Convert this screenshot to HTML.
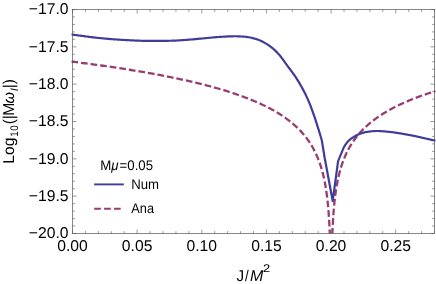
<!DOCTYPE html>
<html><head><meta charset="utf-8"><title>Chart</title><style>
html,body{margin:0;padding:0;background:#fff;}
svg{display:block;will-change:transform;text-rendering:geometricPrecision;font-family:"Liberation Sans",sans-serif;}
</style></head><body>
<svg width="436" height="284" viewBox="0 0 436 284">
<rect width="436" height="284" fill="#fff"/>
<clipPath id="c"><rect x="71.3" y="9.5" width="364.4" height="224.0"/></clipPath>
<g clip-path="url(#c)" fill="none" stroke-linejoin="round">
<path d="M71.40,61.55 L73.06,61.76 L74.71,61.97 L76.37,62.18 L78.03,62.39 L79.68,62.60 L81.34,62.82 L82.99,63.03 L84.65,63.25 L86.30,63.47 L87.96,63.69 L89.62,63.91 L91.27,64.13 L92.93,64.36 L94.58,64.58 L96.24,64.81 L97.90,65.04 L99.55,65.27 L101.21,65.51 L102.86,65.74 L104.52,65.98 L106.18,66.21 L107.83,66.45 L109.49,66.70 L111.14,66.94 L112.80,67.18 L114.46,67.43 L116.11,67.68 L117.77,67.93 L119.42,68.18 L121.08,68.44 L122.74,68.69 L124.39,68.95 L126.05,69.21 L127.70,69.48 L129.36,69.74 L131.02,70.01 L132.67,70.28 L134.33,70.55 L135.98,70.83 L137.64,71.10 L139.30,71.38 L140.95,71.66 L142.61,71.95 L144.26,72.23 L145.92,72.52 L147.58,72.81 L149.23,73.11 L150.89,73.40 L152.54,73.70 L154.20,74.00 L155.86,74.31 L157.51,74.62 L159.17,74.93 L160.82,75.24 L162.48,75.56 L164.14,75.88 L165.79,76.20 L167.45,76.53 L169.10,76.86 L170.76,77.19 L172.42,77.53 L174.07,77.87 L175.73,78.21 L177.38,78.56 L179.04,78.91 L180.70,79.27 L182.35,79.63 L184.01,79.99 L185.66,80.36 L187.32,80.73 L188.98,81.10 L190.63,81.48 L192.29,81.87 L193.94,82.26 L195.60,82.65 L197.26,83.05 L198.91,83.45 L200.57,83.86 L202.22,84.28 L203.88,84.70 L205.54,85.12 L207.19,85.55 L208.85,85.99 L210.50,86.43 L212.16,86.88 L213.82,87.33 L215.47,87.80 L217.13,88.26 L218.78,88.74 L220.44,89.22 L222.10,89.71 L223.75,90.21 L225.41,90.71 L227.06,91.22 L228.72,91.74 L230.38,92.27 L232.03,92.81 L233.69,93.36 L235.34,93.91 L237.00,94.48 L238.66,95.05 L240.31,95.64 L241.97,96.24 L243.62,96.85 L245.28,97.47 L246.94,98.10 L248.59,98.74 L250.25,99.40 L251.90,100.07 L253.56,100.76 L255.22,101.46 L256.87,102.17 L258.53,102.90 L260.18,103.65 L261.84,104.42 L263.50,105.20 L265.15,106.01 L266.81,106.83 L268.46,107.68 L270.12,108.55 L271.78,109.44 L273.43,110.36 L275.09,111.31 L276.74,112.28 L278.40,113.28 L280.06,114.32 L281.71,115.39 L283.37,116.50 L285.02,117.64 L286.68,118.83 L288.34,120.06 L289.99,121.34 L291.65,122.68 L293.30,124.07 L294.96,125.52 L296.62,127.05 L298.27,128.64 L299.93,130.32 L301.58,132.10 L303.24,133.97 L304.89,135.96 L306.55,138.08 L308.21,140.35 L309.86,142.78 L311.52,145.42 L313.17,148.29 L314.83,151.44 L316.49,154.93 L318.14,158.83 L318.14,158.83 L318.58,159.96 L319.01,161.08 L319.42,162.21 L319.82,163.34 L320.20,164.46 L320.57,165.59 L320.93,166.71 L321.28,167.84 L321.61,168.96 L321.93,170.09 L322.25,171.22 L322.55,172.34 L322.84,173.47 L323.12,174.59 L323.39,175.72 L323.65,176.84 L323.91,177.97 L324.15,179.09 L324.39,180.22 L324.61,181.35 L324.83,182.47 L325.05,183.60 L325.25,184.72 L325.45,185.85 L325.64,186.97 L325.83,188.10 L326.01,189.23 L326.18,190.35 L326.35,191.48 L326.51,192.60 L326.66,193.73 L326.81,194.85 L326.96,195.98 L327.10,197.10 L327.24,198.23 L327.37,199.36 L327.49,200.48 L327.61,201.61 L327.73,202.73 L327.85,203.86 L327.96,204.98 L328.06,206.11 L328.17,207.24 L328.26,208.36 L328.36,209.49 L328.45,210.61 L328.54,211.74 L328.63,212.86 L328.71,213.99 L328.79,215.11 L328.87,216.24 L328.95,217.37 L329.02,218.49 L329.09,219.62 L329.16,220.74 L329.22,221.87 L329.28,222.99 L329.34,224.12 L329.40,225.25 L329.46,226.37 L329.52,227.50 L329.57,228.62 L329.62,229.75 L329.67,230.87 L329.72,232.00 L329.76,233.12 L329.81,233.50 L329.85,233.50 L329.89,233.50 L329.93,233.50 L329.97,233.50 L330.01,233.50 L330.05,233.50 L330.08,233.50 L330.11,233.50 L330.15,233.50 L330.18,233.50 L330.21,233.50 L330.24,233.50 L330.27,233.50 L330.29,233.50 L330.32,233.50 L330.35,233.50 L330.37,233.50 L330.40,233.50 L330.42,233.50 L330.44,233.50 L330.46,233.50 L330.48,233.50 L330.50,233.50 L330.52,233.50 L330.54,233.50" stroke="#993d71" stroke-width="2.3" stroke-dasharray="6.7 2.97"/>
<path d="M331.60,233.50 L331.62,233.50 L331.64,233.50 L331.66,233.50 L331.68,233.50 L331.70,233.50 L331.72,233.50 L331.75,233.50 L331.77,233.50 L331.80,233.50 L331.82,233.50 L331.85,233.50 L331.88,233.50 L331.90,233.50 L331.93,233.50 L331.96,233.50 L332.00,233.50 L332.03,233.50 L332.06,233.50 L332.10,233.50 L332.13,233.50 L332.17,233.50 L332.21,233.50 L332.25,233.50 L332.29,233.50 L332.33,233.50 L332.38,233.12 L332.43,232.00 L332.47,230.87 L332.52,229.75 L332.57,228.62 L332.63,227.50 L332.68,226.37 L332.74,225.25 L332.80,224.12 L332.86,222.99 L332.92,221.87 L332.99,220.74 L333.06,219.62 L333.13,218.49 L333.20,217.37 L333.27,216.24 L333.35,215.11 L333.43,213.99 L333.51,212.86 L333.60,211.74 L333.69,210.61 L333.78,209.49 L333.88,208.36 L333.98,207.24 L334.08,206.11 L334.19,204.98 L334.30,203.86 L334.41,202.73 L334.53,201.61 L334.65,200.48 L334.78,199.36 L334.91,198.23 L335.04,197.10 L335.18,195.98 L335.33,194.85 L335.48,193.73 L335.63,192.60 L335.80,191.48 L335.96,190.35 L336.14,189.23 L336.31,188.10 L336.50,186.97 L336.69,185.85 L336.89,184.72 L337.10,183.60 L337.31,182.47 L337.53,181.35 L337.76,180.22 L337.99,179.09 L338.24,177.97 L338.49,176.84 L338.75,175.72 L339.02,174.59 L339.30,173.47 L339.60,172.34 L339.90,171.22 L340.21,170.09 L340.53,168.96 L340.87,167.84 L341.21,166.71 L341.57,165.59 L341.94,164.46 L342.32,163.34 L342.72,162.21 L343.13,161.08 L343.56,159.96 L344.00,158.83 L344.00,158.83 L344.93,156.59 L345.85,154.50 L346.78,152.53 L347.70,150.67 L348.63,148.91 L349.55,147.25 L350.48,145.66 L351.40,144.15 L352.33,142.71 L353.25,141.33 L354.18,140.00 L355.10,138.73 L356.03,137.51 L356.95,136.33 L357.88,135.19 L358.80,134.09 L359.73,133.02 L360.65,131.99 L361.58,130.99 L362.50,130.02 L363.43,129.08 L364.36,128.17 L365.28,127.28 L366.21,126.41 L367.13,125.57 L368.06,124.75 L368.98,123.95 L369.91,123.17 L370.83,122.40 L371.76,121.66 L372.68,120.93 L373.61,120.22 L374.53,119.52 L375.46,118.83 L376.38,118.17 L377.31,117.51 L378.23,116.87 L379.16,116.24 L380.08,115.62 L381.01,115.01 L381.93,114.42 L382.86,113.83 L383.79,113.26 L384.71,112.69 L385.64,112.14 L386.56,111.59 L387.49,111.06 L388.41,110.53 L389.34,110.01 L390.26,109.50 L391.19,109.00 L392.11,108.50 L393.04,108.01 L393.96,107.53 L394.89,107.06 L395.81,106.59 L396.74,106.13 L397.66,105.68 L398.59,105.23 L399.51,104.79 L400.44,104.36 L401.36,103.93 L402.29,103.50 L403.22,103.08 L404.14,102.67 L405.07,102.26 L405.99,101.86 L406.92,101.46 L407.84,101.07 L408.77,100.68 L409.69,100.30 L410.62,99.92 L411.54,99.54 L412.47,99.17 L413.39,98.80 L414.32,98.44 L415.24,98.08 L416.17,97.73 L417.09,97.38 L418.02,97.03 L418.94,96.69 L419.87,96.35 L420.80,96.01 L421.72,95.68 L422.65,95.35 L423.57,95.02 L424.50,94.70 L425.42,94.38 L426.35,94.07 L427.27,93.75 L428.20,93.44 L429.12,93.13 L430.05,92.83 L430.97,92.53 L431.90,92.23 L432.82,91.93 L433.75,91.64 L434.67,91.35 L435.60,91.06" stroke="#993d71" stroke-width="2.3" stroke-dasharray="6.7 2.97" stroke-dashoffset="0.3"/>
<path d="M71.40,34.45 L72.66,34.62 L73.92,34.79 L75.17,34.97 L76.43,35.14 L77.69,35.32 L78.95,35.49 L80.21,35.67 L81.47,35.84 L82.72,36.02 L83.98,36.19 L85.24,36.36 L86.50,36.53 L87.76,36.69 L89.02,36.85 L90.27,37.01 L91.53,37.17 L92.79,37.31 L94.05,37.46 L95.31,37.59 L96.57,37.73 L97.82,37.86 L99.08,38.00 L100.34,38.13 L101.60,38.25 L102.86,38.37 L104.12,38.49 L105.37,38.61 L106.63,38.72 L107.89,38.83 L109.15,38.93 L110.41,39.03 L111.67,39.13 L112.92,39.23 L114.18,39.32 L115.44,39.42 L116.70,39.51 L117.96,39.60 L119.22,39.69 L120.47,39.77 L121.73,39.85 L122.99,39.93 L124.25,40.01 L125.51,40.08 L126.76,40.15 L128.02,40.21 L129.28,40.27 L130.54,40.32 L131.80,40.38 L133.06,40.43 L134.31,40.49 L135.57,40.54 L136.83,40.59 L138.09,40.64 L139.35,40.69 L140.61,40.74 L141.86,40.78 L143.12,40.82 L144.38,40.86 L145.64,40.89 L146.90,40.91 L148.16,40.93 L149.41,40.94 L150.67,40.95 L151.93,40.95 L153.19,40.95 L154.45,40.94 L155.71,40.93 L156.96,40.93 L158.22,40.92 L159.48,40.90 L160.74,40.89 L162.00,40.87 L163.26,40.86 L164.51,40.84 L165.77,40.82 L167.03,40.80 L168.29,40.78 L169.55,40.76 L170.81,40.73 L172.06,40.70 L173.32,40.66 L174.58,40.60 L175.84,40.54 L177.10,40.48 L178.35,40.40 L179.61,40.33 L180.87,40.25 L182.13,40.16 L183.39,40.07 L184.65,39.99 L185.90,39.90 L187.16,39.81 L188.42,39.72 L189.68,39.63 L190.94,39.52 L192.20,39.42 L193.45,39.30 L194.71,39.19 L195.97,39.07 L197.23,38.95 L198.49,38.83 L199.75,38.71 L201.00,38.59 L202.26,38.48 L203.52,38.36 L204.78,38.24 L206.04,38.12 L207.30,37.99 L208.55,37.87 L209.81,37.75 L211.07,37.62 L212.33,37.50 L213.59,37.39 L214.85,37.28 L216.10,37.17 L217.36,37.07 L218.62,36.99 L219.88,36.91 L221.14,36.83 L222.39,36.76 L223.65,36.68 L224.91,36.61 L226.17,36.54 L227.43,36.47 L228.69,36.41 L229.94,36.36 L231.20,36.31 L232.46,36.28 L233.72,36.26 L234.98,36.25 L236.24,36.26 L237.49,36.29 L238.75,36.34 L240.01,36.40 L241.27,36.48 L242.53,36.56 L243.79,36.66 L245.04,36.75 L246.30,36.88 L247.56,37.05 L248.82,37.26 L250.08,37.50 L251.34,37.78 L252.59,38.09 L253.85,38.42 L255.11,38.78 L256.37,39.15 L257.63,39.54 L258.89,39.98 L260.14,40.49 L261.40,41.06 L262.66,41.70 L263.92,42.38 L265.18,43.11 L266.44,43.89 L267.69,44.70 L268.95,45.53 L270.21,46.40 L271.47,47.33 L272.73,48.34 L273.98,49.44 L275.24,50.61 L276.50,51.86 L277.76,53.16 L279.02,54.52 L280.28,56.01 L281.53,57.66 L282.79,59.41 L284.05,61.19 L285.31,62.92 L286.57,64.62 L287.83,66.30 L289.08,67.98 L290.34,69.66 L291.60,71.37 L292.86,73.11 L294.12,74.89 L295.38,76.73 L296.63,78.64 L297.89,80.63 L299.15,82.69 L300.41,84.84 L301.67,87.07 L302.93,89.38 L304.18,91.78 L305.44,94.27 L306.70,96.88 L307.96,99.65 L309.22,102.59 L310.48,105.70 L311.73,109.02 L312.99,112.54 L314.25,116.19 L315.51,119.92 L316.77,123.81 L318.03,127.83 L319.28,131.89 L320.54,136.01 L321.80,140.20 L324.70,158.00 L332.70,201.00 L338.10,161.10 L343.80,147.30 L344.26,146.55 L344.72,145.82 L345.18,145.12 L345.65,144.44 L346.11,143.79 L346.57,143.16 L347.03,142.57 L347.49,142.01 L347.95,141.48 L348.41,140.98 L348.87,140.52 L349.34,140.09 L349.80,139.69 L350.26,139.31 L350.72,138.96 L351.18,138.62 L351.64,138.30 L352.10,137.99 L352.56,137.70 L353.03,137.41 L353.49,137.12 L353.95,136.84 L354.41,136.57 L354.87,136.30 L355.33,136.03 L355.79,135.77 L356.26,135.51 L356.72,135.27 L357.18,135.03 L357.64,134.80 L358.10,134.58 L358.56,134.37 L359.02,134.18 L359.48,133.99 L359.95,133.82 L360.41,133.66 L360.87,133.50 L361.33,133.34 L361.79,133.18 L362.25,133.04 L362.71,132.89 L363.17,132.75 L363.64,132.62 L364.10,132.50 L364.56,132.38 L365.02,132.27 L365.48,132.17 L365.94,132.07 L366.40,131.99 L366.87,131.92 L367.33,131.85 L367.79,131.79 L368.25,131.73 L368.71,131.67 L369.17,131.61 L369.63,131.55 L370.09,131.49 L370.56,131.43 L371.02,131.38 L371.48,131.33 L371.94,131.28 L372.40,131.24 L372.86,131.19 L373.32,131.16 L373.78,131.12 L374.25,131.09 L374.71,131.06 L375.17,131.04 L375.63,131.02 L376.09,131.01 L376.55,131.00 L377.01,131.00 L377.48,131.00 L377.94,131.01 L378.40,131.02 L378.86,131.03 L379.32,131.05 L379.78,131.07 L380.24,131.09 L380.70,131.12 L381.17,131.14 L381.63,131.18 L382.09,131.21 L382.55,131.24 L383.01,131.28 L383.47,131.32 L383.93,131.36 L384.39,131.40 L384.86,131.44 L385.32,131.49 L385.78,131.53 L386.24,131.58 L386.70,131.62 L387.16,131.67 L387.62,131.72 L388.09,131.76 L388.55,131.81 L389.01,131.85 L389.47,131.90 L389.93,131.94 L390.39,131.99 L390.85,132.04 L391.31,132.09 L391.78,132.15 L392.24,132.21 L392.70,132.26 L393.16,132.33 L393.62,132.39 L394.08,132.45 L394.54,132.52 L395.01,132.59 L395.47,132.65 L395.93,132.72 L396.39,132.80 L396.85,132.87 L397.31,132.94 L397.77,133.01 L398.23,133.09 L398.70,133.16 L399.16,133.24 L399.62,133.31 L400.08,133.39 L400.54,133.46 L401.00,133.54 L401.46,133.61 L401.92,133.69 L402.39,133.76 L402.85,133.84 L403.31,133.92 L403.77,133.99 L404.23,134.07 L404.69,134.15 L405.15,134.23 L405.62,134.31 L406.08,134.39 L406.54,134.47 L407.00,134.56 L407.46,134.64 L407.92,134.73 L408.38,134.81 L408.84,134.90 L409.31,134.98 L409.77,135.07 L410.23,135.16 L410.69,135.25 L411.15,135.34 L411.61,135.43 L412.07,135.52 L412.53,135.61 L413.00,135.70 L413.46,135.79 L413.92,135.88 L414.38,135.98 L414.84,136.07 L415.30,136.16 L415.76,136.26 L416.23,136.36 L416.69,136.46 L417.15,136.56 L417.61,136.66 L418.07,136.76 L418.53,136.86 L418.99,136.96 L419.45,137.07 L419.92,137.17 L420.38,137.28 L420.84,137.38 L421.30,137.49 L421.76,137.60 L422.22,137.70 L422.68,137.81 L423.14,137.92 L423.61,138.02 L424.07,138.13 L424.53,138.24 L424.99,138.34 L425.45,138.45 L425.91,138.55 L426.37,138.66 L426.84,138.76 L427.30,138.87 L427.76,138.97 L428.22,139.08 L428.68,139.18 L429.14,139.28 L429.60,139.39 L430.06,139.49 L430.53,139.60 L430.99,139.70 L431.45,139.81 L431.91,139.91 L432.37,140.02 L432.83,140.12 L433.29,140.23 L433.75,140.33 L434.22,140.44 L434.68,140.54 L435.14,140.65 L435.60,140.75" stroke="#3f3d99" stroke-width="2.2"/>
</g>
<g fill="none" stroke="#555" stroke-width="0.7">
<rect x="72.5" y="9.5" width="362.0" height="224.0"/>
<path d="M72.50,233.5 v-4 M72.50,9.5 v4 M85.43,233.5 v-2.4 M85.43,9.5 v2.4 M98.36,233.5 v-2.4 M98.36,9.5 v2.4 M111.29,233.5 v-2.4 M111.29,9.5 v2.4 M124.21,233.5 v-2.4 M124.21,9.5 v2.4 M137.14,233.5 v-4 M137.14,9.5 v4 M150.07,233.5 v-2.4 M150.07,9.5 v2.4 M163.00,233.5 v-2.4 M163.00,9.5 v2.4 M175.93,233.5 v-2.4 M175.93,9.5 v2.4 M188.86,233.5 v-2.4 M188.86,9.5 v2.4 M201.79,233.5 v-4 M201.79,9.5 v4 M214.71,233.5 v-2.4 M214.71,9.5 v2.4 M227.64,233.5 v-2.4 M227.64,9.5 v2.4 M240.57,233.5 v-2.4 M240.57,9.5 v2.4 M253.50,233.5 v-2.4 M253.50,9.5 v2.4 M266.43,233.5 v-4 M266.43,9.5 v4 M279.36,233.5 v-2.4 M279.36,9.5 v2.4 M292.29,233.5 v-2.4 M292.29,9.5 v2.4 M305.21,233.5 v-2.4 M305.21,9.5 v2.4 M318.14,233.5 v-2.4 M318.14,9.5 v2.4 M331.07,233.5 v-4 M331.07,9.5 v4 M344.00,233.5 v-2.4 M344.00,9.5 v2.4 M356.93,233.5 v-2.4 M356.93,9.5 v2.4 M369.86,233.5 v-2.4 M369.86,9.5 v2.4 M382.79,233.5 v-2.4 M382.79,9.5 v2.4 M395.71,233.5 v-4 M395.71,9.5 v4 M408.64,233.5 v-2.4 M408.64,9.5 v2.4 M421.57,233.5 v-2.4 M421.57,9.5 v2.4 M434.50,233.5 v-2.4 M434.50,9.5 v2.4 M72.5,9.50 h4 M434.5,9.50 h-4 M72.5,16.97 h2.4 M434.5,16.97 h-2.4 M72.5,24.43 h2.4 M434.5,24.43 h-2.4 M72.5,31.90 h2.4 M434.5,31.90 h-2.4 M72.5,39.37 h2.4 M434.5,39.37 h-2.4 M72.5,46.83 h4 M434.5,46.83 h-4 M72.5,54.30 h2.4 M434.5,54.30 h-2.4 M72.5,61.77 h2.4 M434.5,61.77 h-2.4 M72.5,69.23 h2.4 M434.5,69.23 h-2.4 M72.5,76.70 h2.4 M434.5,76.70 h-2.4 M72.5,84.17 h4 M434.5,84.17 h-4 M72.5,91.63 h2.4 M434.5,91.63 h-2.4 M72.5,99.10 h2.4 M434.5,99.10 h-2.4 M72.5,106.57 h2.4 M434.5,106.57 h-2.4 M72.5,114.03 h2.4 M434.5,114.03 h-2.4 M72.5,121.50 h4 M434.5,121.50 h-4 M72.5,128.97 h2.4 M434.5,128.97 h-2.4 M72.5,136.43 h2.4 M434.5,136.43 h-2.4 M72.5,143.90 h2.4 M434.5,143.90 h-2.4 M72.5,151.37 h2.4 M434.5,151.37 h-2.4 M72.5,158.83 h4 M434.5,158.83 h-4 M72.5,166.30 h2.4 M434.5,166.30 h-2.4 M72.5,173.77 h2.4 M434.5,173.77 h-2.4 M72.5,181.23 h2.4 M434.5,181.23 h-2.4 M72.5,188.70 h2.4 M434.5,188.70 h-2.4 M72.5,196.17 h4 M434.5,196.17 h-4 M72.5,203.63 h2.4 M434.5,203.63 h-2.4 M72.5,211.10 h2.4 M434.5,211.10 h-2.4 M72.5,218.57 h2.4 M434.5,218.57 h-2.4 M72.5,226.03 h2.4 M434.5,226.03 h-2.4 M72.5,233.50 h4 M434.5,233.50 h-4" stroke="#555" stroke-width="0.6"/>
</g>
<g font-size="15.7px" fill="#000"><text transform="translate(72.50,251) scale(1.0,1)" text-anchor="middle">0.00</text><text transform="translate(137.14,251) scale(1.0,1)" text-anchor="middle">0.05</text><text transform="translate(201.79,251) scale(1.0,1)" text-anchor="middle">0.10</text><text transform="translate(266.43,251) scale(1.0,1)" text-anchor="middle">0.15</text><text transform="translate(331.07,251) scale(1.0,1)" text-anchor="middle">0.20</text><text transform="translate(395.71,251) scale(1.0,1)" text-anchor="middle">0.25</text><text transform="translate(68.5,14.30) scale(1.0,1)" text-anchor="end">−17.0</text><text transform="translate(68.5,51.63) scale(1.0,1)" text-anchor="end">−17.5</text><text transform="translate(68.5,88.97) scale(1.0,1)" text-anchor="end">−18.0</text><text transform="translate(68.5,126.30) scale(1.0,1)" text-anchor="end">−18.5</text><text transform="translate(68.5,163.63) scale(1.0,1)" text-anchor="end">−19.0</text><text transform="translate(68.5,200.97) scale(1.0,1)" text-anchor="end">−19.5</text><text transform="translate(68.5,238.30) scale(1.0,1)" text-anchor="end">−20.0</text></g>
<g transform="translate(236.4,280.6)"><text transform="translate(0.00,0.00) scale(0.970,1)" font-size="15.7px">J</text><text transform="translate(8.51,0.00) scale(0.850,1)" font-size="15.7px">/</text><text transform="translate(13.52,0.00) scale(1.020,1)" font-size="15.7px" font-style="italic">M</text><text transform="translate(26.66,-8.30) scale(1.180,1)" font-size="11.0px">2</text></g>
<g transform="translate(13.85,163.65) rotate(-90)"><text transform="translate(0.00,0.00) scale(1.000,1)" font-size="15.7px">L</text><text transform="translate(8.73,0.00) scale(1.000,1)" font-size="15.7px">o</text><text transform="translate(17.46,0.00) scale(1.000,1)" font-size="15.7px">g</text><text transform="translate(26.96,4.60) scale(0.880,1)" font-size="11.0px">1</text><text transform="translate(32.89,4.60) scale(0.880,1)" font-size="11.0px">0</text><text transform="translate(39.33,0.00) scale(1.000,1)" font-size="15.7px">(</text><text transform="translate(44.41,0.00) scale(1.000,1)" font-size="15.7px">|</text><text transform="translate(47.84,0.00) scale(1.000,1)" font-size="15.7px">M</text><text transform="translate(60.22,0.00) scale(0.936,1)" font-size="15.7px" font-style="italic">ω</text><text transform="translate(72.51,3.70) scale(1.000,1)" font-size="11.0px" font-style="italic">I</text><text transform="translate(75.37,0.00) scale(1.000,1)" font-size="15.7px">|</text><text transform="translate(79.35,0.00) scale(1.000,1)" font-size="15.7px">)</text></g>
<g font-size="14px">
<text transform="translate(100.3,170.1) scale(0.945,1)">M<tspan font-style="italic">μ</tspan><tspan dx="0.9">=</tspan><tspan dx="0.15">0.05</tspan></text>
<text transform="translate(131.3,188.7) scale(0.94,1)">Num</text>
<text transform="translate(131.3,212.9) scale(0.91,1)">Ana</text>
</g>
<path d="M94.2,184.4 H123.8" stroke="#3f3d99" stroke-width="1.9" fill="none"/>
<path d="M94.2,208.7 H123.8" stroke="#993d71" stroke-width="1.9" stroke-dasharray="6.7 3.2" fill="none"/>
</svg>
</body></html>
